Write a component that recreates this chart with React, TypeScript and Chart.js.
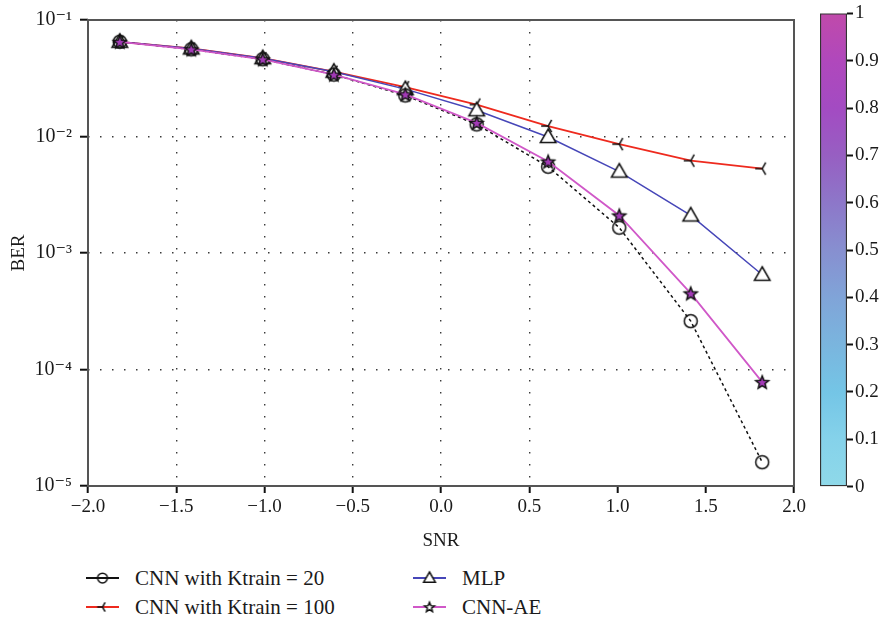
import React, { useEffect, useRef } from "react";
import { Chart, registerables } from "chart.js";

Chart.register(...registerables);

// SNR sample points
const snr = [-1.82, -1.415, -1.01, -0.607, -0.202, 0.202, 0.607, 1.01, 1.415, 1.82];

// Bit error rate of each detector at those SNR points
const berCnnK20 = [0.065, 0.056, 0.046, 0.034, 0.0225, 0.0127, 0.0055, 0.00165, 0.00026, 0.000016];
const berCnnK100 = [0.065, 0.057, 0.047, 0.036, 0.0265, 0.0188, 0.0123, 0.0086, 0.0062, 0.0053];
const berMlp = [0.065, 0.057, 0.047, 0.036, 0.0255, 0.0168, 0.0099, 0.005, 0.0021, 0.00065];
const berCnnAe = [0.065, 0.056, 0.046, 0.034, 0.023, 0.0131, 0.0061, 0.0021, 0.00045, 0.000078];

const seriesNames = ["CNN with Ktrain = 20", "CNN with Ktrain = 100", "MLP", "CNN-AE"];
const seriesValues = [berCnnK20, berCnnK100, berMlp, berCnnAe];

// Axis extents and ticks
const xRange = [-2, 2];
const xStep = 0.5;
const xGridRange = [-1.5, 0.5];
const yDecades = [1e-5, 1e-4, 1e-3, 1e-2, 1e-1];
const colorbarRange = [0, 1];
const colorbarStep = 0.1;

// Colour map of the colour bar, from 0 (bottom) to 1 (top)
const colorbarColors = [
  "#8fd9e9", "#85d2ea", "#74c5e6", "#7ab5de", "#80a4d8", "#878fd0",
  "#8d77c9", "#975fc2", "#a34bc2", "#b048bc", "#c04aaa",
];

// Per-series drawing styles
const seriesStyles = [
  { color: "#111111", width: 1.5, dash: [3, 3], marker: "circle" },
  { color: "#ee2a1e", width: 1.8, dash: [] as number[], marker: "triLeft" },
  { color: "#4646b8", width: 1.5, dash: [] as number[], marker: "triangle" },
  { color: "#d058c8", width: 1.8, dash: [] as number[], marker: "star" },
];

const FONT = "'Liberation Serif', 'DejaVu Serif', 'Times New Roman', serif";
const INK = "#1a1a1a";

const SUP: Record<string, string> = {
  "-": "\u207B", "0": "\u2070", "1": "\u00B9", "2": "\u00B2", "3": "\u00B3",
  "4": "\u2074", "5": "\u2075", "6": "\u2076", "7": "\u2077", "8": "\u2078", "9": "\u2079",
};

function powerLabel(v: number): string {
  const e = Math.round(Math.log10(v));
  return "10" + String(e).split("").map((ch) => SUP[ch] ?? ch).join("");
}

function xLabel(v: number): string {
  const s = Math.abs(v).toFixed(1);
  return v < 0 ? "\u2212" + s : s;
}

// Builds a marker bitmap; `k` scales it and `hollow` leaves the star unfilled
function markerCanvas(kind: string, k = 1, hollow = false): HTMLCanvasElement {
  const size = 22;
  const c = document.createElement("canvas");
  c.width = size;
  c.height = size;
  const g = c.getContext("2d")!;
  const m = size / 2;
  g.lineWidth = 1.5;
  g.strokeStyle = "#111";
  g.lineJoin = "miter";
  if (kind === "circle") {
    g.beginPath();
    g.arc(m, m, 6.5 * k, 0, Math.PI * 2);
    g.stroke();
  } else if (kind === "triLeft") {
    const r = 7 * k;
    const a = Math.PI / 3;
    g.beginPath();
    g.moveTo(m, m);
    g.lineTo(m - r, m);
    g.moveTo(m, m);
    g.lineTo(m + r * Math.cos(a), m - r * Math.sin(a));
    g.moveTo(m, m);
    g.lineTo(m + r * Math.cos(a), m + r * Math.sin(a));
    g.stroke();
  } else if (kind === "triangle") {
    g.beginPath();
    g.moveTo(m, m - 8 * k);
    g.lineTo(m + 7.8 * k, m + 5.5 * k);
    g.lineTo(m - 7.8 * k, m + 5.5 * k);
    g.closePath();
    g.fillStyle = "#ffffff";
    g.fill();
    g.stroke();
  } else if (kind === "star") {
    const ro = 6.8 * k;
    const ri = 3.0 * k;
    g.beginPath();
    for (let i = 0; i < 10; i++) {
      const r = i % 2 === 0 ? ro : ri;
      const ang = -Math.PI / 2 + (i * Math.PI) / 5;
      const px = m + r * Math.cos(ang);
      const py = m + 0.6 * k + r * Math.sin(ang);
      if (i === 0) g.moveTo(px, py);
      else g.lineTo(px, py);
    }
    g.closePath();
    g.fillStyle = hollow ? "#ffffff" : "#a23ab6";
    g.fill();
    g.stroke();
  }
  return c;
}

// Draws a box around the plotting area
const framePlugin = {
  id: "frame",
  afterDraw(chart: any) {
    const { ctx, chartArea: a } = chart;
    ctx.save();
    ctx.setLineDash([]);
    ctx.strokeStyle = "#555555";
    ctx.lineWidth = 2;
    ctx.strokeRect(a.left, a.top, a.right - a.left, a.bottom - a.top);
    ctx.restore();
  },
};

function LegendSample({ index }: { index: number }) {
  const ref = useRef<HTMLCanvasElement | null>(null);
  useEffect(() => {
    const c = ref.current;
    if (!c) return;
    const g = c.getContext("2d")!;
    const st = seriesStyles[index];
    g.clearRect(0, 0, c.width, c.height);
    g.strokeStyle = st.color;
    g.lineWidth = 2.2;
    g.beginPath();
    g.moveTo(0, c.height / 2);
    g.lineTo(c.width, c.height / 2);
    g.stroke();
    const mk = markerCanvas(st.marker, 0.75, true);
    g.drawImage(mk, c.width / 2 - mk.width / 2, c.height / 2 - mk.height / 2);
  }, [index]);
  return <canvas ref={ref} width={33} height={22} style={{ display: "block" }} />;
}

export default function App() {
  const mainRef = useRef<HTMLCanvasElement | null>(null);
  const barRef = useRef<HTMLCanvasElement | null>(null);

  useEffect(() => {
    if (!mainRef.current || !barRef.current) return;

    const font = { family: FONT, size: 19 };

    const datasets = seriesValues.map((vals, i) => {
      const st = seriesStyles[i];
      return {
        label: seriesNames[i],
        data: snr.map((x, k) => ({ x, y: vals[k] })),
        borderColor: st.color,
        borderWidth: st.width,
        borderDash: st.dash,
        pointStyle: markerCanvas(st.marker),
        pointRadius: 7,
        fill: false,
        tension: 0,
        order: [1, 3, 2, 0][i],
      };
    });

    const main = new Chart(mainRef.current, {
      type: "line",
      data: { datasets },
      options: {
        responsive: false,
        maintainAspectRatio: false,
        animation: false,
        devicePixelRatio: 1,
        layout: { padding: { top: 11, right: 93, left: 0, bottom: 0 } },
        plugins: { legend: { display: false }, tooltip: { enabled: false } },
        scales: {
          x: {
            type: "linear",
            min: xRange[0],
            max: xRange[1],
            ticks: {
              stepSize: xStep,
              autoSkip: false,
              maxRotation: 0,
              padding: 3,
              color: INK,
              font,
              callback: (v: any) => xLabel(Number(v)),
            },
            grid: {
              color: (ctx: any) => {
                const v = ctx.tick ? ctx.tick.value : NaN;
                return v >= xGridRange[0] - 1e-9 && v <= xGridRange[1] + 1e-9 ? "#3a3a3a" : "rgba(0,0,0,0)";
              },
              lineWidth: 1.4,
              tickLength: 7,
              tickColor: "#111",
              tickWidth: 2,
            },
            border: { display: false, dash: [1.5, 10.5] },
            title: { display: true, text: "SNR", color: INK, font, padding: { top: 0, bottom: 8 } },
            afterFit: (s: any) => {
              s.height = 74;
            },
          },
          y: {
            type: "logarithmic",
            min: yDecades[0],
            max: yDecades[yDecades.length - 1],
            afterBuildTicks: (s: any) => {
              s.ticks = yDecades.map((v) => ({ value: v }));
            },
            ticks: {
              autoSkip: false,
              padding: 8,
              color: INK,
              font: { family: FONT, size: 20 },
              callback: (v: any) => powerLabel(Number(v)),
            },
            grid: {
              color: (ctx: any) => {
                const v = ctx.tick ? ctx.tick.value : NaN;
                return v > yDecades[0] * 1.5 && v < yDecades[yDecades.length - 1] * 0.9 ? "#3a3a3a" : "rgba(0,0,0,0)";
              },
              lineWidth: 1.4,
              tickLength: 8,
              tickColor: "#111",
              tickWidth: 2,
            },
            border: { display: false, dash: [1.5, 10.5] },
            title: { display: true, text: "BER", color: INK, font, padding: { top: 8, bottom: 0 } },
            afterFit: (s: any) => {
              s.width = 88;
            },
          },
        },
      },
      plugins: [framePlugin],
    } as any);

    const bar = new Chart(barRef.current, {
      type: "bar",
      data: {
        labels: [""],
        datasets: [
          {
            data: [[colorbarRange[0], colorbarRange[1]]],
            backgroundColor: (ctx: any) => {
              const a = ctx.chart.chartArea;
              if (!a) return colorbarColors[0];
              const g = ctx.chart.ctx.createLinearGradient(0, a.bottom, 0, a.top);
              colorbarColors.forEach((c, i) => g.addColorStop(i / (colorbarColors.length - 1), c));
              return g;
            },
            borderColor: "#333333",
            borderWidth: 1.5,
            borderSkipped: false,
            barPercentage: 1,
            categoryPercentage: 1,
          },
        ],
      },
      options: {
        responsive: false,
        maintainAspectRatio: false,
        animation: false,
        devicePixelRatio: 1,
        layout: { padding: { left: 20, top: 11, right: 0, bottom: 13 } },
        plugins: { legend: { display: false }, tooltip: { enabled: false } },
        scales: {
          x: { display: false },
          y: {
            position: "right",
            min: colorbarRange[0],
            max: colorbarRange[1],
            ticks: {
              stepSize: colorbarStep,
              padding: 2,
              color: INK,
              font,
              callback: (v: any) => String(Number(Number(v).toFixed(1))),
            },
            grid: { drawOnChartArea: false, tickLength: 6, tickColor: "#111", tickWidth: 2 },
            border: { display: false },
            afterFit: (s: any) => {
              s.width = 40;
            },
          },
        },
      },
    } as any);

    return () => {
      main.destroy();
      bar.destroy();
    };
  }, []);

  const legendCols = [86, 413];
  const legendRows = [578, 607];
  const legendOrder = [
    [0, 0, 0],
    [1, 0, 1],
    [2, 1, 0],
    [3, 1, 1],
  ];

  return (
    <div
      style={{
        position: "fixed",
        left: 0,
        top: 0,
        width: 887,
        height: 622,
        background: "#ffffff",
        overflow: "hidden",
      }}
    >
      <canvas ref={mainRef} width={887} height={560} style={{ position: "absolute", left: 0, top: 0 }} />
      <canvas ref={barRef} width={87} height={500} style={{ position: "absolute", left: 800, top: 0 }} />
      {legendOrder.map(([idx, col, row]) => (
        <div
          key={idx}
          style={{
            position: "absolute",
            left: legendCols[col],
            top: legendRows[row] - 12,
            height: 24,
            display: "flex",
            alignItems: "center",
            fontFamily: FONT,
            fontSize: 21,
            color: INK,
            whiteSpace: "nowrap",
          }}
        >
          <LegendSample index={idx} />
          <span style={{ marginLeft: 16 }}>{seriesNames[idx]}</span>
        </div>
      ))}
    </div>
  );
}
